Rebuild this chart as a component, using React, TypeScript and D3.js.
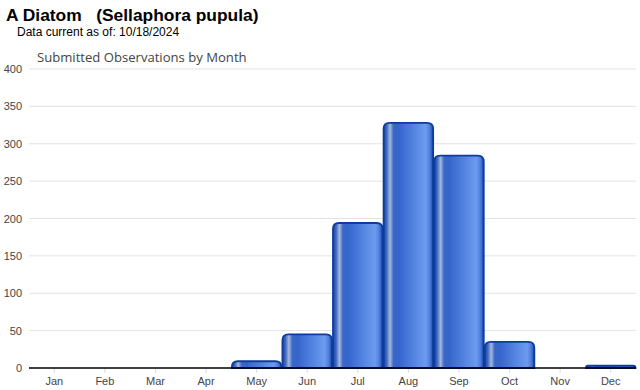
import React, { useEffect, useRef } from 'react';
import * as d3 from 'd3';

const months = ['Jan', 'Feb', 'Mar', 'Apr', 'May', 'Jun', 'Jul', 'Aug', 'Sep', 'Oct', 'Nov', 'Dec'];
const observations = [0, 0, 0, 0, 9, 45, 194, 328, 284, 35, 0, 3];
const yTicks = [0, 50, 100, 150, 200, 250, 300, 350, 400];

const App = () => {
  const ref = useRef<SVGSVGElement>(null);

  useEffect(() => {
    const svg = d3.select(ref.current);
    svg.selectAll('*').remove();

    const left = 29;
    const right = 636;
    const top = 69;
    const bottom = 368;

    const x = d3.scaleBand().domain(months).range([left, right]).paddingInner(0.02).paddingOuter(0.01);
    const y = d3.scaleLinear().domain([0, 400]).range([bottom, top]);

    // bar gradient
    const defs = svg.append('defs');
    const grad = defs.append('linearGradient').attr('id', 'barGrad')
      .attr('x1', 0).attr('x2', 1).attr('y1', 0).attr('y2', 0);
    [
      [0, '#1b47a8'],
      [0.06, '#3c66be'],
      [0.13, '#a6b9dc'],
      [0.2, '#3a68c8'],
      [0.3, '#3565cc'],
      [0.6, '#5283e0'],
      [0.85, '#6d9bef'],
      [0.93, '#4f7fdc'],
      [1, '#1a48ad'],
    ].forEach(([o, c]) => grad.append('stop').attr('offset', o as number).attr('stop-color', c as string));

    // titles
    svg.append('text').attr('x', 6).attr('y', 21)
      .style('font-family', 'Arial, Liberation Sans, sans-serif')
      .style('font-size', '17.4px').style('font-weight', 'bold').attr('fill', '#000')
      .attr('xml:space', 'preserve')
      .text('A Diatom   (Sellaphora pupula)');
    svg.append('text').attr('x', 17).attr('y', 36)
      .style('font-family', 'Arial, Liberation Sans, sans-serif')
      .style('font-size', '12px').attr('fill', '#000')
      .text('Data current as of: 10/18/2024');
    svg.append('text').attr('x', 37).attr('y', 62)
      .style('font-family', 'Open Sans, sans-serif')
      .style('font-size', '13.1px').attr('fill', '#444')
      .text('Submitted Observations by Month');

    // gridlines
    svg.append('g').selectAll('line').data(yTicks.filter(d => d > 0)).join('line')
      .attr('x1', left).attr('x2', right)
      .attr('y1', d => y(d)).attr('y2', d => y(d))
      .attr('stroke', '#e3e3e3').attr('stroke-width', 1);

    svg.append('g').selectAll('text').data(yTicks).join('text')
      .attr('x', 22).attr('y', d => y(d) + 4)
      .attr('text-anchor', 'end')
      .style('font-family', 'Arial, Liberation Sans, sans-serif')
      .style('font-size', '11px').attr('fill', '#444')
      .text(d => d);

    // x ticks
    svg.append('g').selectAll('line').data(months).join('line')
      .attr('x1', d => x(d)! + x.bandwidth() / 2).attr('x2', d => x(d)! + x.bandwidth() / 2)
      .attr('y1', bottom).attr('y2', bottom + 5)
      .attr('stroke', '#ddd');

    svg.append('g').selectAll('text').data(months).join('text')
      .attr('x', d => x(d)! + x.bandwidth() / 2).attr('y', bottom + 17)
      .attr('text-anchor', 'middle')
      .style('font-family', 'Arial, Liberation Sans, sans-serif')
      .style('font-size', '11px').attr('fill', '#444')
      .text(d => d);

    // bars with rounded top corners
    const r = 6;
    const barPath = (x0: number, w: number, yt: number) => {
      const h = bottom - yt;
      const rr = Math.min(r, h, w / 2);
      return `M${x0},${bottom} L${x0},${yt + rr} Q${x0},${yt} ${x0 + rr},${yt} L${x0 + w - rr},${yt} Q${x0 + w},${yt} ${x0 + w},${yt + rr} L${x0 + w},${bottom} Z`;
    };
    const data = months.map((m, i) => ({ m, v: observations[i] })).filter(d => d.v > 0);
    svg.append('g').selectAll('path').data(data).join('path')
      .attr('d', d => barPath(x(d.m)!, x.bandwidth(), y(d.v)))
      .attr('fill', 'url(#barGrad)')
      .attr('stroke', '#0c3c9e').attr('stroke-width', 1.8);

    // zero axis
    svg.append('line').attr('x1', left).attr('x2', right)
      .attr('y1', bottom).attr('y2', bottom)
      .attr('stroke', '#000').attr('stroke-width', 1.5);
  }, []);

  return (
    <svg ref={ref} width={640} height={390} style={{ position: 'absolute', left: 0, top: 0, background: '#fff' }} />
  );
};

export default App;
